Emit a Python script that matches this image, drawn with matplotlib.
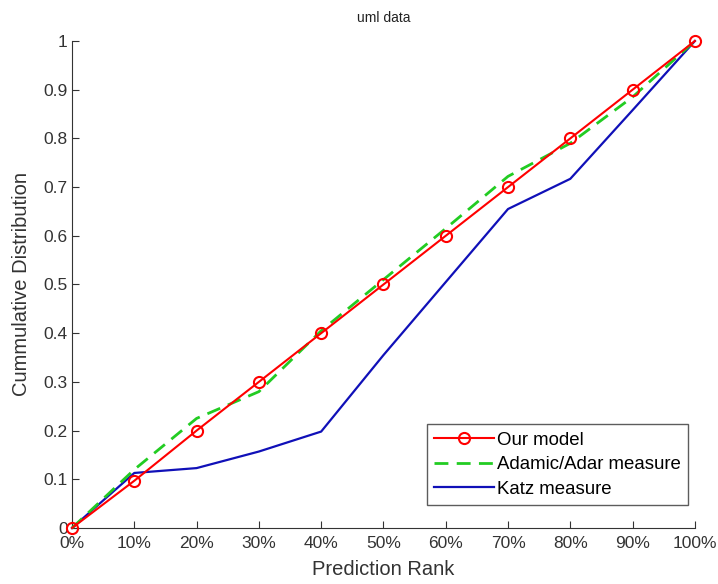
import numpy as np
import matplotlib.pyplot as plt

plt.rcParams['font.family'] = ['Liberation Sans', 'DejaVu Sans']

# Prediction rank positions and labels
rank = [0, 10, 20, 30, 40, 50, 60, 70, 80, 90, 100]
rank_labels = ["0%", "10%", "20%", "30%", "40%", "50%", "60%", "70%", "80%", "90%", "100%"]

# Cumulative distribution for each method
our_model = [0, 0.097, 0.2, 0.3, 0.4, 0.5, 0.6, 0.7, 0.8, 0.9, 1.0]
adamic_adar = [0, 0.12, 0.225, 0.28, 0.405, 0.51, 0.615, 0.722, 0.79, 0.885, 1.0]
katz = [0, 0.113, 0.123, 0.157, 0.198, 0.355, 0.505, 0.655, 0.717, 0.858, 1.0]

fig = plt.figure(figsize=(7.18, 5.84), dpi=100)
ax = fig.add_axes([0.1003, 0.0959, 0.8675, 0.8339])

ax.plot(rank, our_model, color="red", linewidth=1.5, marker="o", markersize=8,
        markerfacecolor="none", markeredgewidth=1.5, label="Our model", clip_on=False, zorder=4)
ax.plot(rank, adamic_adar, color="#22cc22", linewidth=2, linestyle=(0, (5, 3)),
        label="Adamic/Adar measure", clip_on=False, zorder=3)
ax.plot(rank, katz, color="#1010b8", linewidth=1.6, label="Katz measure", clip_on=False, zorder=2)

ax.set_xlim(0, 100)
ax.set_ylim(0, 1)
ax.set_xticks(rank)
ax.set_xticklabels(rank_labels)
ax.set_yticks(np.arange(0, 1.01, 0.1))
ax.set_yticklabels(["0", "0.1", "0.2", "0.3", "0.4", "0.5", "0.6", "0.7", "0.8", "0.9", "1"])
ax.tick_params(direction="in", length=5, labelsize=12.5, colors="#333333")
ax.tick_params(axis="x", pad=6)
ax.tick_params(axis="y", pad=3)
for s in ["top", "right"]:
    ax.spines[s].set_visible(False)
for s in ["left", "bottom"]:
    ax.spines[s].set_color("#333333")

ax.set_xlabel("Prediction Rank", fontsize=14.5, color="#333333", labelpad=6)
ax.set_ylabel("Cummulative Distribution", fontsize=14.5, color="#333333", labelpad=9)
ax.set_title("uml data", fontsize=10, color="#222222", pad=14)

leg = ax.legend(loc="lower right", bbox_to_anchor=(0.989, 0.047), borderaxespad=0,
                fontsize=13.4, fancybox=False, edgecolor="#333333", handlelength=3.2,
                handletextpad=0.15, borderpad=0.4, labelspacing=0.4)
leg.get_frame().set_linewidth(1)

fig.savefig("out.png", dpi=100)
